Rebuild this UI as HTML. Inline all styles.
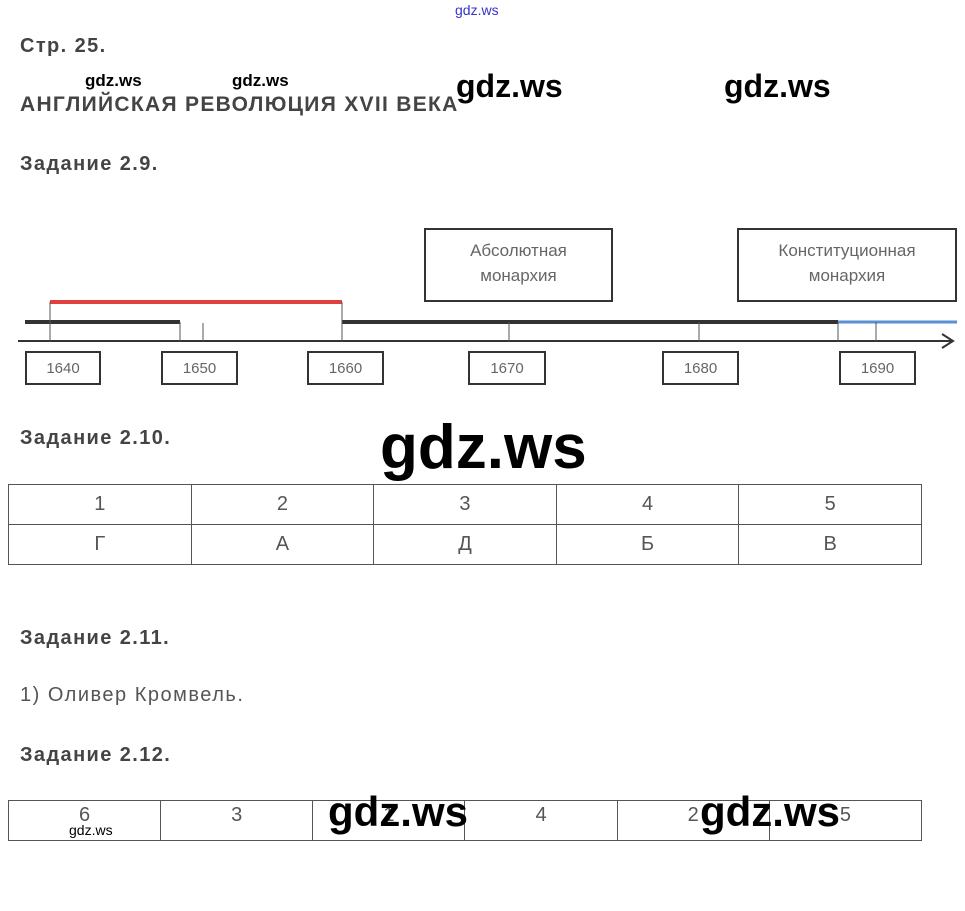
<!DOCTYPE html>
<html><head><meta charset="utf-8"><style>
body{margin:0;width:965px;height:911px;background:#fff;position:relative;overflow:hidden;font-family:"Liberation Sans",sans-serif;}
.a{position:absolute;white-space:nowrap}
.h{font-weight:bold;color:#444;font-size:20px;letter-spacing:1.4px}
.wm{font-family:"Liberation Sans",sans-serif;font-weight:bold;color:#000}
.bx{position:absolute;border:2px solid #333;box-sizing:border-box;text-align:center;color:#666;font-size:15px}
table{position:absolute;border-collapse:collapse;table-layout:fixed}
td{border:1px solid #555;text-align:center;color:#555;font-size:20px;padding:0}
</style></head><body>
<div class="a" style="left:455px;top:2px;font-size:14px;color:#33c">gdz.ws</div>
<div class="a h" style="left:20px;top:35px">Стр. 25.</div>
<div class="a wm" style="left:85px;top:71px;font-size:17px">gdz.ws</div>
<div class="a wm" style="left:232px;top:71px;font-size:17px">gdz.ws</div>
<div class="a h" style="left:20px;top:93px;font-size:21px;letter-spacing:1.3px">АНГЛИЙСКАЯ РЕВОЛЮЦИЯ XVII ВЕКА</div>
<div class="a wm" style="left:456px;top:68px;font-size:32px">gdz.ws</div>
<div class="a wm" style="left:724px;top:68px;font-size:32px">gdz.ws</div>
<div class="a h" style="left:20px;top:153px">Задание 2.9.</div>

<svg class="a" style="left:0;top:0" width="965" height="400">
<line x1="50" y1="302" x2="342" y2="302" stroke="#e04040" stroke-width="4"/>
<line x1="25" y1="322" x2="180" y2="322" stroke="#333" stroke-width="4"/>
<line x1="342" y1="322" x2="838" y2="322" stroke="#333" stroke-width="4"/>
<line x1="838" y1="322" x2="957" y2="322" stroke="#5b8fd6" stroke-width="3"/>
<line x1="18" y1="341" x2="952" y2="341" stroke="#333" stroke-width="2"/>
<polyline points="942,334 953,341 942,348" fill="none" stroke="#333" stroke-width="2"/>
<g stroke="#555" stroke-width="1">
<line x1="50" y1="302" x2="50" y2="341"/><line x1="180" y1="322" x2="180" y2="341"/>
<line x1="203" y1="323" x2="203" y2="341"/><line x1="342" y1="302" x2="342" y2="341"/>
<line x1="509" y1="322" x2="509" y2="341"/><line x1="699" y1="322" x2="699" y2="341"/>
<line x1="838" y1="322" x2="838" y2="341"/><line x1="876" y1="322" x2="876" y2="341"/>
</g></svg>
<div class="bx" style="left:424px;top:228px;width:189px;height:74px;padding-top:8px;font-size:17px;line-height:25px">Абсолютная<br>монархия</div>
<div class="bx" style="left:737px;top:228px;width:220px;height:74px;padding-top:8px;font-size:17px;line-height:25px">Конституционная<br>монархия</div>
<div class="bx" style="left:25px;top:351px;width:76px;height:34px;line-height:32px">1640</div>
<div class="bx" style="left:161px;top:351px;width:77px;height:34px;line-height:32px">1650</div>
<div class="bx" style="left:307px;top:351px;width:77px;height:34px;line-height:32px">1660</div>
<div class="bx" style="left:468px;top:351px;width:78px;height:34px;line-height:32px">1670</div>
<div class="bx" style="left:662px;top:351px;width:77px;height:34px;line-height:32px">1680</div>
<div class="bx" style="left:839px;top:351px;width:77px;height:34px;line-height:32px">1690</div>

<div class="a h" style="left:20px;top:427px">Задание 2.10.</div>
<div class="a wm" style="left:380px;top:412px;font-size:62px">gdz.ws</div>
<table style="left:8px;top:484px;width:914px">
<tr style="height:40px"><td>1</td><td>2</td><td>3</td><td>4</td><td>5</td></tr>
<tr style="height:40px"><td>Г</td><td>А</td><td>Д</td><td>Б</td><td>В</td></tr>
</table>

<div class="a h" style="left:20px;top:627px">Задание 2.11.</div>
<div class="a" style="left:20px;top:684px;font-size:20px;color:#555;letter-spacing:1.5px">1) Оливер Кромвель.</div>
<div class="a h" style="left:20px;top:744px">Задание 2.12.</div>
<table style="left:8px;top:800px;width:914px">
<tr style="height:40px;vertical-align:top"><td style="padding-top:3px">6</td><td style="padding-top:3px">3</td><td style="padding-top:3px">1</td><td style="padding-top:3px">4</td><td style="padding-top:3px">2</td><td style="padding-top:3px">5</td></tr>
</table>
<div class="a" style="left:69px;top:822px;font-size:14px;color:#000">gdz.ws</div>
<div class="a wm" style="left:328px;top:788px;font-size:42px">gdz.ws</div>
<div class="a wm" style="left:700px;top:788px;font-size:42px">gdz.ws</div>
</body></html>
